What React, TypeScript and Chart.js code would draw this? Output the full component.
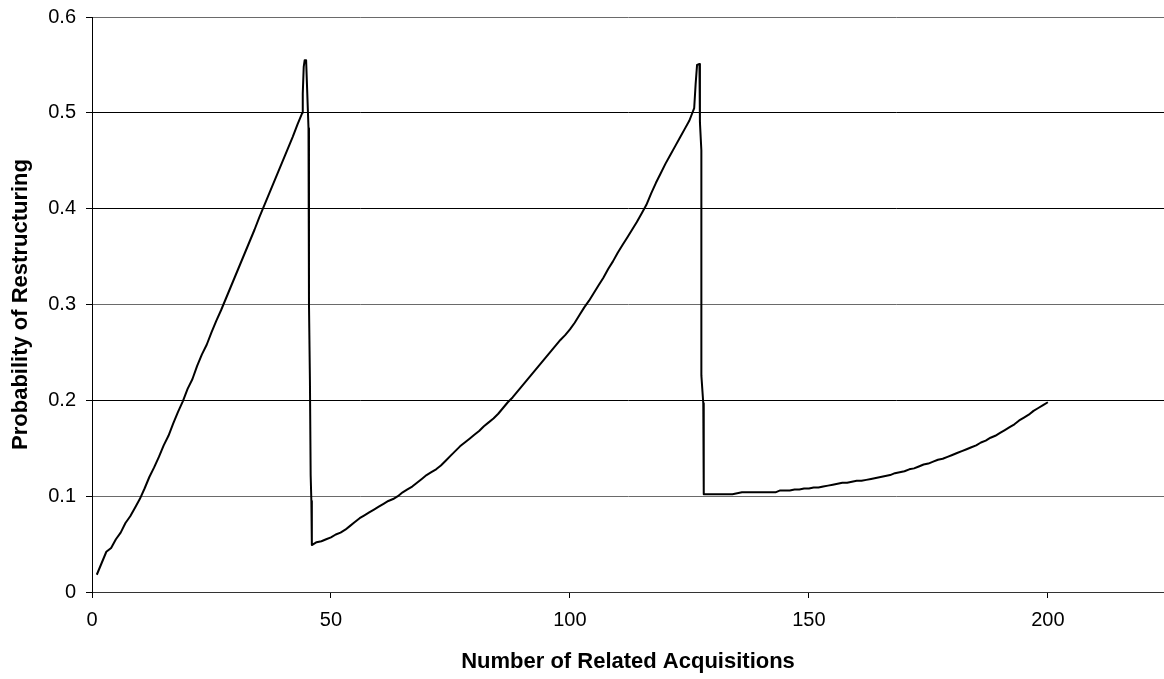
import React, { useEffect, useRef } from "react";
import { Chart, registerables } from "chart.js";

Chart.register(...registerables);

const FONT = "'Liberation Sans', Arial, Helvetica, sans-serif";

// Axis settings
const xAxisMin = 0;
const xAxisMax = 224.3;
const xTickStep = 50;
const yAxisMin = 0;
const yAxisMax = 0.6;
const yTickStep = 0.1;
const xTitle = "Number of Related Acquisitions";
const yTitle = "Probability of Restructuring";

// First rising segment
const riseOneX = [
  1, 2, 3, 4, 5, 6, 7, 8, 9, 10, 11, 12, 13, 14, 15, 16, 17, 18, 19, 20, 21, 22,
  23, 24, 25, 26, 27, 28, 29, 30, 31, 32, 33, 34, 35, 36, 37, 38, 39, 40, 41, 42,
  43, 44,
];
const riseOneY = [
  0.018, 0.03, 0.042, 0.046, 0.055, 0.062, 0.072, 0.079, 0.088, 0.097, 0.108,
  0.12, 0.13, 0.141, 0.153, 0.163, 0.176, 0.188, 0.199, 0.212, 0.222, 0.236,
  0.248, 0.258, 0.271, 0.283, 0.294, 0.306, 0.318, 0.33, 0.342, 0.354, 0.366,
  0.378, 0.391, 0.403, 0.415, 0.427, 0.439, 0.451, 0.463, 0.475, 0.488, 0.5,
];

// First peak and drop
const peakOneX = [44.1, 44.3, 44.5, 44.8, 45.3, 45.4, 45.6, 45.75, 45.9, 46.0];
const peakOneY = [0.52, 0.548, 0.555, 0.555, 0.484, 0.3, 0.22, 0.122, 0.095, 0.049];

// Second rising segment
const riseTwoX = [
  47, 48, 49, 50, 51, 52, 53, 54, 55, 56, 57, 58, 59, 60, 61, 62, 63, 64, 65, 66,
  67, 68, 69, 70, 71, 72, 73, 74, 75, 76, 77, 78, 79, 80, 81, 82, 83, 84, 85, 86,
  87, 88, 89, 90, 91, 92, 93, 94, 95, 96, 97, 98, 99, 100, 101, 102, 103, 104,
  105, 106, 107, 108, 109, 110, 111, 112, 113, 114, 115, 116, 117, 118, 119, 120,
  121, 122, 123, 124, 125, 126,
];
const riseTwoY = [
  0.052, 0.053, 0.055, 0.057, 0.06, 0.062, 0.065, 0.069, 0.073, 0.077, 0.08,
  0.083, 0.086, 0.089, 0.092, 0.095, 0.097, 0.1, 0.104, 0.107, 0.11, 0.114,
  0.118, 0.122, 0.125, 0.128, 0.132, 0.137, 0.142, 0.147, 0.152, 0.156, 0.16,
  0.164, 0.168, 0.173, 0.177, 0.181, 0.186, 0.192, 0.198, 0.203, 0.209, 0.215,
  0.221, 0.227, 0.233, 0.239, 0.245, 0.251, 0.257, 0.263, 0.268, 0.274, 0.281,
  0.289, 0.297, 0.304, 0.312, 0.32, 0.328, 0.337, 0.345, 0.354, 0.362, 0.37,
  0.378, 0.386, 0.395, 0.404, 0.416, 0.427, 0.437, 0.447, 0.456, 0.465, 0.474,
  0.483, 0.492, 0.505,
];

// Second peak and drop
const peakTwoX = [126.3, 126.6, 127.1, 127.2, 127.5, 127.5, 127.9, 128.0];
const peakTwoY = [0.53, 0.55, 0.551, 0.49, 0.461, 0.226, 0.197, 0.102];

// Tail segment
const tailX = [
  129, 130, 131, 132, 133, 134, 135, 136, 137, 138, 139, 140, 141, 142, 143, 144,
  145, 146, 147, 148, 149, 150, 151, 152, 153, 154, 155, 156, 157, 158, 159, 160,
  161, 162, 163, 164, 165, 166, 167, 168, 169, 170, 171, 172, 173, 174, 175, 176,
  177, 178, 179, 180, 181, 182, 183, 184, 185, 186, 187, 188, 189, 190, 191, 192,
  193, 194, 195, 196, 197, 198, 199, 200,
];
const tailY = [
  0.102, 0.102, 0.102, 0.102, 0.102, 0.102, 0.103, 0.104, 0.104, 0.104, 0.104,
  0.104, 0.104, 0.104, 0.104, 0.106, 0.106, 0.106, 0.107, 0.107, 0.108, 0.108,
  0.109, 0.109, 0.11, 0.111, 0.112, 0.113, 0.114, 0.114, 0.115, 0.116, 0.116,
  0.117, 0.118, 0.119, 0.12, 0.121, 0.122, 0.124, 0.125, 0.126, 0.128, 0.129,
  0.131, 0.133, 0.134, 0.136, 0.138, 0.139, 0.141, 0.143, 0.145, 0.147, 0.149,
  0.151, 0.153, 0.156, 0.158, 0.161, 0.163, 0.166, 0.169, 0.172, 0.175, 0.179,
  0.182, 0.185, 0.189, 0.192, 0.195, 0.198,
];

export default function App() {
  const ref = useRef<HTMLCanvasElement>(null);

  useEffect(() => {
    document.body.style.margin = "0";
    const xs = [...riseOneX, ...peakOneX, ...riseTwoX, ...peakTwoX, ...tailX];
    const ys = [...riseOneY, ...peakOneY, ...riseTwoY, ...peakTwoY, ...tailY];
    const points = xs.map((x, i) => ({ x, y: ys[i] }));

    const chart = new Chart(ref.current as HTMLCanvasElement, {
      type: "scatter",
      data: {
        datasets: [
          {
            data: points,
            showLine: true,
            borderColor: "#000",
            borderWidth: 2,
            pointRadius: 0,
            pointHoverRadius: 0,
            tension: 0,
            fill: false,
            borderJoinStyle: "round",
          },
        ],
      },
      options: {
        animation: false,
        responsive: false,
        devicePixelRatio: 1,
        layout: { padding: { top: 17, left: 0, right: 0, bottom: 0 } },
        plugins: {
          legend: { display: false },
          tooltip: { enabled: false },
        },
        scales: {
          x: {
            type: "linear",
            min: xAxisMin,
            max: xAxisMax,
            afterBuildTicks: (s: any) => {
              s.ticks = s.ticks.filter((t: any) => Math.abs(t.value % xTickStep) < 1e-9);
            },
            afterFit: (s: any) => {
              s.height = 87;
              s.paddingRight = 0;
            },
            ticks: {
              stepSize: xTickStep,
              color: "#000",
              padding: 10,
              maxRotation: 0,
              font: { family: FONT, size: 20 },
            },
            grid: {
              drawOnChartArea: false,
              drawTicks: true,
              tickLength: 6,
              tickColor: "#000",
            },
            border: { display: true, color: "#333", width: 1 },
            title: {
              display: true,
              text: xTitle,
              color: "#000",
              font: { family: FONT, size: 22, weight: "bold" },
              padding: { top: 0, bottom: 4 },
            },
          },
          y: {
            type: "linear",
            min: yAxisMin,
            max: yAxisMax,
            afterFit: (s: any) => {
              s.width = 92;
              s.paddingTop = 0;
              s.paddingBottom = 0;
            },
            ticks: {
              stepSize: yTickStep,
              color: "#000",
              padding: 10,
              font: { family: FONT, size: 20 },
              callback: (v: any) => String(Number(Number(v).toFixed(1))),
            },
            grid: {
              drawTicks: true,
              tickLength: 6,
              tickColor: "#000",
              lineWidth: 1,
              color: (ctx: any) => {
                const v = ctx.tick ? Math.round(ctx.tick.value * 10) : -1;
                return v === 1 || v === 3 || v === 6 ? "#6a6a6a" : "#000";
              },
            },
            border: { display: true, color: "#000", width: 1 },
            title: {
              display: true,
              text: yTitle,
              color: "#000",
              font: { family: FONT, size: 22, weight: "bold" },
              padding: { top: 8, bottom: 0 },
            },
          },
        },
      },
    } as any);

    return () => chart.destroy();
  }, []);

  return (
    <canvas
      ref={ref}
      width={1164}
      height={679}
      style={{ position: "absolute", left: 0, top: 0, display: "block" }}
    />
  );
}
